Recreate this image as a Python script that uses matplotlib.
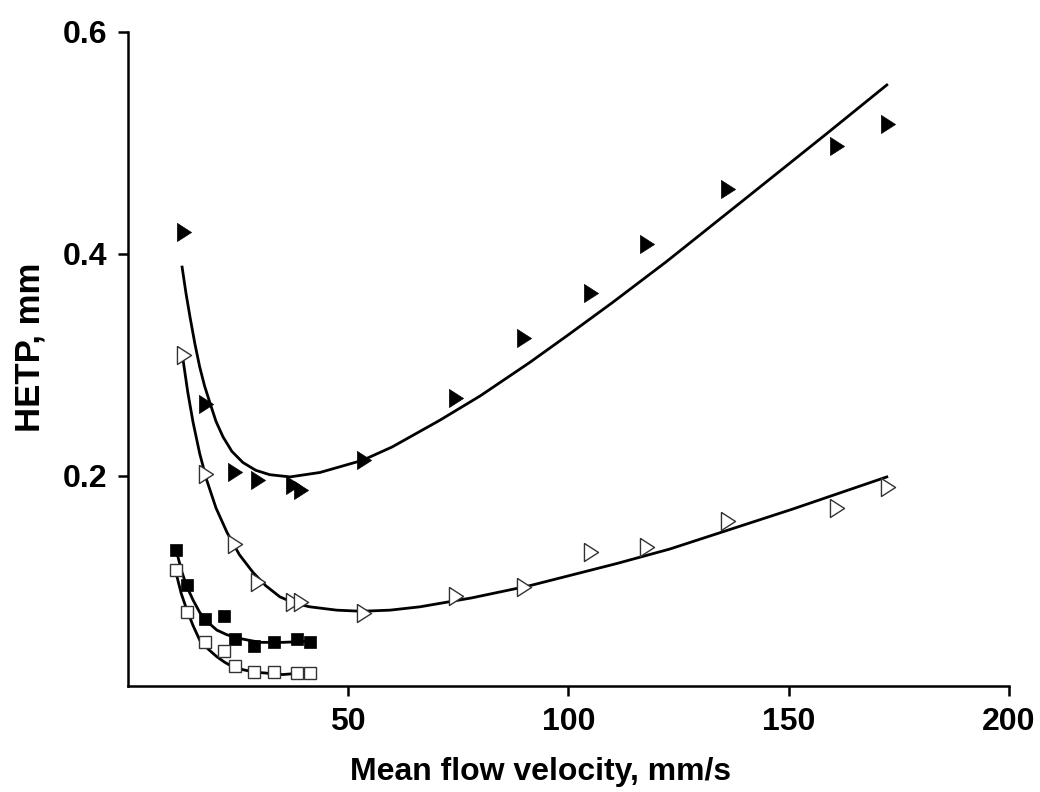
import matplotlib
matplotlib.use("Agg")
import matplotlib.pyplot as plt

# measured points (mean flow velocity mm/s, HETP mm)
tri_x = [12.7, 17.7, 24.3, 29.5, 37.4, 39.3, 53.6, 74.4, 89.9, 105.1, 117.8, 136.2, 161.1, 172.5]
tri_filled_y = [0.420, 0.265, 0.203, 0.196, 0.192, 0.187, 0.214, 0.270, 0.324, 0.365, 0.409, 0.458, 0.497, 0.517]
tri_open_y = [0.309, 0.202, 0.139, 0.104, 0.086, 0.086, 0.076, 0.092, 0.100, 0.131, 0.136, 0.159, 0.171, 0.190]

sq_x = [10.9, 13.4, 17.5, 21.8, 24.3, 28.6, 33.1, 38.3, 41.3]
sq_filled_y = [0.133, 0.102, 0.071, 0.074, 0.053, 0.047, 0.050, 0.053, 0.050]
sq_open_y = [0.115, 0.077, 0.050, 0.042, 0.029, 0.023, 0.023, 0.022, 0.022]

# fitted curves
fit_tf_x = [12.3, 13.2, 14.1, 15.2, 16.3, 17.4, 18.6, 20.0, 21.6, 23.6, 26.1, 29.0, 32.2, 36.8, 43.6, 53.3,
            60.0, 70.8, 80.0, 91.2, 100.0, 110.0, 122.3, 140.0, 158.6, 172.3]
fit_tf_y = [0.388, 0.364, 0.343, 0.319, 0.298, 0.281, 0.266, 0.249, 0.235, 0.222, 0.212, 0.205, 0.201, 0.199,
            0.203, 0.214, 0.226, 0.250, 0.272, 0.302, 0.327, 0.356, 0.393, 0.449, 0.508, 0.552]
fit_to_x = [12.5, 13.6, 14.8, 16.3, 17.9, 20.0, 22.5, 25.3, 28.4, 31.3, 34.5, 38.0, 41.3, 47.4, 53.0, 59.5,
            66.3, 78.0, 91.2, 111.0, 123.0, 150.9, 172.3]
fit_to_y = [0.305, 0.275, 0.248, 0.220, 0.196, 0.171, 0.149, 0.129, 0.113, 0.101, 0.091, 0.085, 0.082, 0.079,
            0.078, 0.079, 0.082, 0.090, 0.101, 0.121, 0.134, 0.170, 0.199]
fit_sf_x = [11.1, 12.2, 13.4, 14.8, 16.3, 18.2, 20.2, 22.4, 24.7, 27.3, 30.0, 35.2, 41.3]
fit_sf_y = [0.131, 0.114, 0.100, 0.088, 0.077, 0.068, 0.061, 0.057, 0.054, 0.052, 0.050, 0.050, 0.051]
fit_so_x = [10.9, 12.1, 13.4, 14.8, 16.3, 18.2, 20.2, 22.0, 23.8, 26.5, 29.3, 35.2, 41.3]
fit_so_y = [0.113, 0.094, 0.079, 0.065, 0.052, 0.044, 0.037, 0.032, 0.028, 0.025, 0.023, 0.021, 0.023]

xticks = [50, 100, 150, 200]
yticks = [0.2, 0.4, 0.6]

tri_right = [(-0.78, 1.0), (-0.78, -1.0), (0.78, 0.0), (-0.78, 1.0)]

fig = plt.figure(figsize=(10.4, 7.92), dpi=100)
ax = fig.add_axes([0.123, 0.134, 0.847, 0.826])

for fx, fy in [(fit_tf_x, fit_tf_y), (fit_to_x, fit_to_y), (fit_sf_x, fit_sf_y), (fit_so_x, fit_so_y)]:
    ax.plot(fx, fy, color='black', lw=2.0, zorder=2, solid_joinstyle='round')

ax.plot(tri_x, tri_filled_y, ls='none', marker=tri_right, ms=13, mfc='black', mec='black', mew=0.5, zorder=3)
ax.plot(tri_x, tri_open_y, ls='none', marker=tri_right, ms=13, mfc='white', mec='#333333', mew=1.0, zorder=3)
ax.plot(sq_x, sq_filled_y, ls='none', marker='s', ms=8.5, mfc='black', mec='black', mew=0.5, zorder=3)
ax.plot(sq_x, sq_open_y, ls='none', marker='s', ms=8.5, mfc='white', mec='#333333', mew=1.0, zorder=3)

ax.set_xlim(0, 200)
ax.set_ylim(0.0108, 0.6)
ax.spines['top'].set_visible(False)
ax.spines['right'].set_visible(False)
for s in ['left', 'bottom']:
    ax.spines[s].set_linewidth(1.8)

ax.set_xticks(xticks)
ax.set_yticks(yticks)
ax.set_yticklabels(['%.1f' % v for v in yticks])
ax.tick_params(axis='both', direction='out', length=7, width=1.8, pad=8)

fam = ['Liberation Sans', 'DejaVu Sans']
for lab in ax.get_xticklabels():
    lab.set_fontfamily(fam)
    lab.set_fontweight('bold')
    lab.set_fontsize(23)
for lab in ax.get_yticklabels():
    lab.set_fontfamily(fam)
    lab.set_fontweight('bold')
    lab.set_fontsize(23)

ax.set_xlabel('Mean flow velocity, mm/s', family=fam, fontweight='bold', fontsize=23)
ax.set_ylabel('HETP, mm', family=fam, fontweight='bold', fontsize=25)
ax.xaxis.set_label_coords(0.469, -0.108)
ax.yaxis.set_label_coords(-0.092, 0.518)

fig.savefig('out.png', dpi=100)
